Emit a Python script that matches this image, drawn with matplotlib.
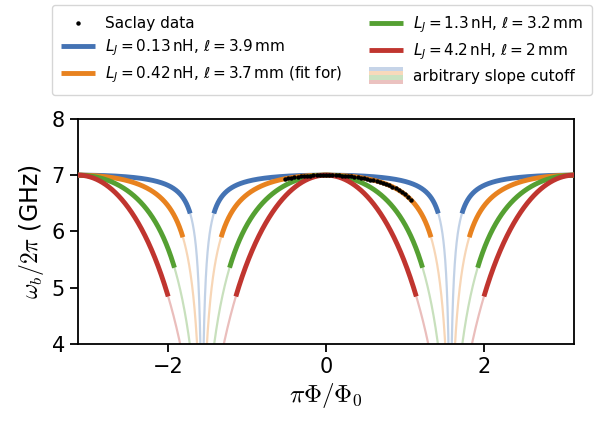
import numpy as np
import matplotlib
matplotlib.use("Agg")
import matplotlib.pyplot as plt
from matplotlib.legend_handler import HandlerBase
from matplotlib.patches import Rectangle

# Josephson inductance (nH) and line length (mm) of each model resonator
LJ_nH = [0.13, 0.42, 1.3, 4.2]
length_mm = [3.9, 3.7, 3.2, 2.0]
colors = ["#4473b4", "#e8821f", "#55a032", "#c0352f"]
fit_index = 1

f_max_GHz = 7.0       # zero-flux frequency shared by all models
Z0_ohm = 190.0        # characteristic impedance of the line
slope_cutoff = 4.75   # |df/dphi| above which a branch is faded (GHz/rad)

# Saclay measurement (reduced flux, frequency in GHz)
data_phi = [-0.52, -0.48, -0.44, -0.40, -0.36, -0.32, -0.28, -0.24, -0.20, -0.16,
            -0.12, -0.08, -0.04, 0.00, 0.04, 0.08, 0.12, 0.16, 0.20, 0.24,
            0.28, 0.32, 0.36, 0.40, 0.44, 0.48, 0.52, 0.56, 0.60, 0.64,
            0.68, 0.72, 0.76, 0.80, 0.84, 0.88, 0.92, 0.96, 1.00, 1.04, 1.08]
data_f = [6.930, 6.945, 6.955, 6.965, 6.973, 6.979, 6.984, 6.989, 6.993, 6.996,
          6.998, 6.999, 7.000, 7.000, 7.000, 6.999, 6.998, 6.996, 6.993, 6.989,
          6.984, 6.978, 6.971, 6.963, 6.953, 6.943, 6.932, 6.920, 6.907, 6.893,
          6.877, 6.860, 6.840, 6.820, 6.795, 6.768, 6.735, 6.700, 6.660, 6.610, 6.550]

xticks = [-2, 0, 2]
yticks = [4, 5, 6, 7, 8]


def mode_frequency(phi, lj_nh):
    """Fundamental mode of a line shunted by a SQUID of inductance LJ/|cos(phi)|."""
    w0 = 2 * np.pi * f_max_GHz * 1e9
    x0 = np.arctan(Z0_ohm / (w0 * lj_nh * 1e-9))      # electrical length at zero flux
    target = x0 * np.tan(x0) * np.abs(np.cos(phi))
    lo = np.zeros_like(phi)
    hi = np.full_like(phi, np.pi / 2 - 1e-12)
    for _ in range(80):
        mid = 0.5 * (lo + hi)
        above = mid * np.tan(mid) > target
        hi = np.where(above, mid, hi)
        lo = np.where(above, lo, mid)
    return f_max_GHz * 0.5 * (lo + hi) / x0


class CutoffKey:
    def __init__(self, cols):
        self.colors = cols


class StackedBands(HandlerBase):
    def create_artists(self, legend, orig_handle, xdescent, ydescent,
                       width, height, fontsize, trans):
        n = len(orig_handle.colors)
        band = 0.4 * height
        top = -ydescent + height / 2 + band * n / 2
        arts = []
        for i, c in enumerate(orig_handle.colors):
            arts.append(Rectangle((-xdescent, top - (i + 1) * band), width, band,
                                  facecolor=c, edgecolor="none", alpha=0.3,
                                  transform=trans))
        return arts


fig = plt.figure(figsize=(5.95, 4.23), dpi=100)
ax = fig.add_axes([0.131, 0.187, 0.834, 0.532])

phi = np.linspace(-np.pi, np.pi, 6001)
handles = []
labels = []
for lj, ell, c in zip(LJ_nH, length_mm, colors):
    f = mode_frequency(phi, lj)
    slope = np.abs(np.gradient(f, phi))
    ax.plot(phi, f, color=c, lw=1.6, alpha=0.32, zorder=2)
    thick = np.where(slope <= slope_cutoff, f, np.nan)
    ln, = ax.plot(phi, thick, color=c, lw=3.5, solid_capstyle="butt", zorder=3)
    handles.append(ln)
    lab = rf"$L_J = {lj:g}\,\mathrm{{nH}}$, $\ell = {ell:g}\,\mathrm{{mm}}$"
    labels.append(lab)
labels[fit_index] += " (fit for)"

dots, = ax.plot(data_phi, data_f, "o", color="k", ms=3.2, mew=0, zorder=5)

ax.set_xlim(-np.pi, np.pi)
ax.set_ylim(4, 8)
ax.set_xticks(xticks)
ax.set_yticks(yticks)
ax.tick_params(direction="out", length=6, width=1.3, labelsize=15)
for s in ax.spines.values():
    s.set_linewidth(1.3)

ax.set_xlabel(r"$\pi\Phi/\Phi_0$", fontsize=18, math_fontfamily="cm", labelpad=3)
ax.set_ylabel(r"$\omega_b/2\pi$ (GHz)", fontsize=17, math_fontfamily="cm")

legend_handles = [dots] + handles + [CutoffKey(colors)]
legend_labels = ["Saclay data"] + labels + ["arbitrary slope cutoff"]
fig.legend(legend_handles, legend_labels, ncol=2, loc="upper left",
           bbox_to_anchor=(0.087, 0.988), borderaxespad=0, fontsize=11,
           handlelength=2.2, handletextpad=0.65, columnspacing=1.8,
           labelspacing=0.42, borderpad=0.62,
           handler_map={CutoffKey: StackedBands()})

fig.savefig("out.png", dpi=100)
